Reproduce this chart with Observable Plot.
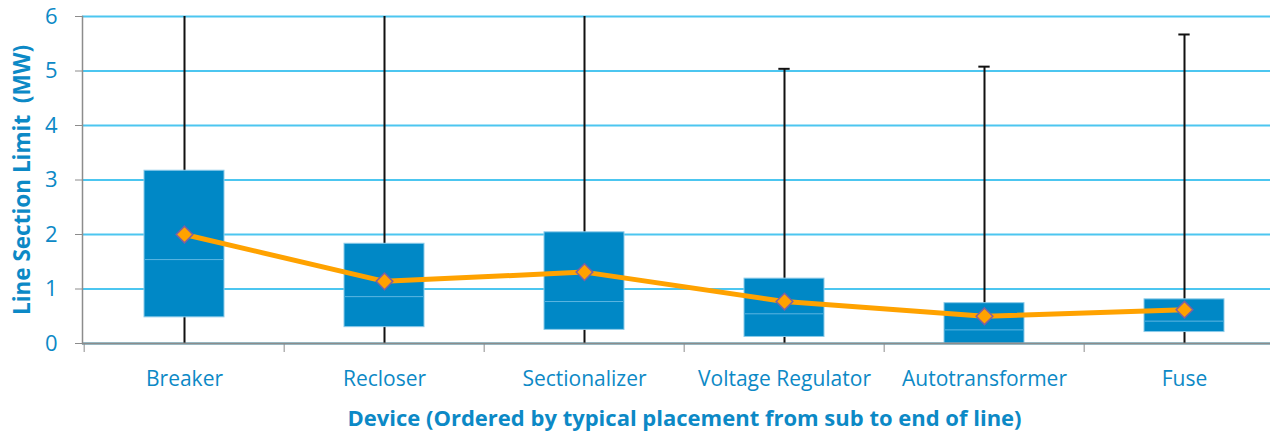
<!DOCTYPE html>
<html>
<head>
<meta charset="utf-8">
<script src="https://cdn.jsdelivr.net/npm/d3@7"></script>
<script src="https://cdn.jsdelivr.net/npm/@observablehq/plot@0.6"></script>
<style>
  html, body { margin: 0; padding: 0; background: #fff; overflow: hidden; }
</style>
</head>
<body>
<div id="chart"></div>
<script>
const categories = ["Breaker", "Recloser", "Sectionalizer", "Voltage Regulator", "Autotransformer", "Fuse"];
const q1Values = [0.48, 0.30, 0.25, 0.12, 0.00, 0.21];
const medianValues = [1.54, 0.86, 0.77, 0.545, 0.25, 0.41];
const q3Values = [3.17, 1.83, 2.04, 1.19, 0.74, 0.81];
const meanValues = [2.00, 1.14, 1.31, 0.77, 0.50, 0.62];
const whiskerLow = [0, 0, 0, 0, 0, 0];
const whiskerHigh = [7, 7, 7, 5.04, 5.08, 5.67];
const yTicks = [0, 1, 2, 3, 4, 5, 6];
const yLabel = "Line Section Limit  (MW)";
const xLabel = "Device (Ordered by typical placement from sub to end of line)";

const rows = categories.map((c, i) => ({
  device: c, q1: q1Values[i], median: medianValues[i], q3: q3Values[i],
  mean: meanValues[i], lo: whiskerLow[i], hi: whiskerHigh[i]
}));

const W = 1270, H = 433;
const mL = 82, mT = 16, mB = 90;
const xRange = [82, 1286];
const step = (xRange[1] - xRange[0]) / categories.length;
const blue = "#0c89c6";
const gray = "#8c8c8c";
const font = "'Open Sans', sans-serif";

const chart = Plot.plot({
  width: W, height: H,
  marginLeft: mL, marginRight: 0, marginTop: mT, marginBottom: mB,
  style: { fontFamily: font, background: "#fff" },
  x: { type: "band", domain: categories, range: xRange, padding: 0 },
  y: { domain: [0, 6] },
  marks: [
    Plot.gridY(yTicks, { stroke: "#4cc6f0", strokeOpacity: 1, strokeWidth: 2 }),
    Plot.ruleX(rows, { x: "device", y1: "lo", y2: "hi", stroke: "#111", strokeWidth: 2, clip: true }),
    Plot.tickY(rows.filter(d => d.hi <= 6), { x: "device", y: "hi", stroke: "#111", strokeWidth: 2, insetLeft: step / 2 - 6, insetRight: step / 2 - 6 }),
    Plot.barY(rows, { x: "device", y1: "q1", y2: "q3", fill: "#0088c6", stroke: "#8ccbe9", strokeWidth: 1, insetLeft: 60, insetRight: 60 }),
    Plot.tickY(rows, { x: "device", y: "median", stroke: "#5cb6e2", strokeWidth: 1, insetLeft: 61, insetRight: 61 }),
    Plot.frame({ anchor: "left", stroke: gray, strokeWidth: 1.5 }),
    Plot.ruleY([0], { stroke: gray, strokeWidth: 2 }),
    Plot.axisY({ ticks: yTicks, tickSize: 7, tickPadding: 18, stroke: gray, fill: blue, fontSize: 22, label: null, tickFormat: d => String(d) }),
    Plot.axisX({ tickSize: 9, tickFormat: () => "", dx: -step / 2, stroke: gray, label: null }),
    Plot.axisX({ tickSize: 0, tickPadding: 28, fill: blue, fontSize: 21, label: null }),
    Plot.line(rows, { x: "device", y: "mean", stroke: "#ffa200", strokeWidth: 5, curve: "linear" }),
    Plot.dot(rows, { x: "device", y: "mean", symbol: "diamond2", r: 7.5, fill: "#ffa200", stroke: "#8060a0", strokeWidth: 1.5 }),
    Plot.text([yLabel], { frameAnchor: "left", textAnchor: "middle", lineAnchor: "middle", rotate: -90, dx: -60, dy: 0, fill: blue, fontSize: 22.5, fontWeight: "bold" }),
    Plot.text([xLabel], { frameAnchor: "bottom", textAnchor: "middle", lineAnchor: "middle", dx: 8, dy: 75, fill: blue, fontSize: 22, fontWeight: "bold" })
  ]
});
document.getElementById("chart").appendChild(chart);
</script>
</body>
</html>
